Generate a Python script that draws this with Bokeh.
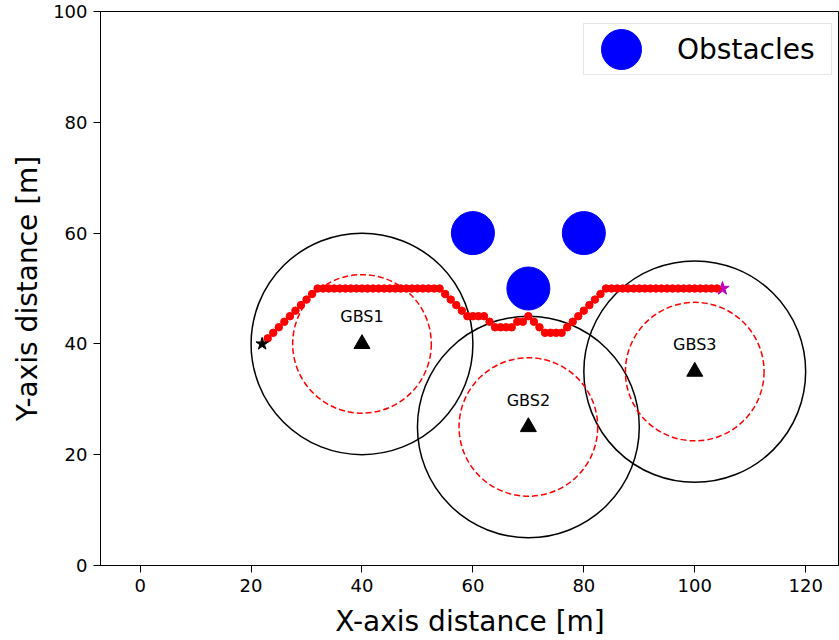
from bokeh.plotting import figure
from bokeh.models import Range1d, Legend, LegendItem, FixedTicker
from bokeh.core.properties import value
from bokeh.embed import file_html
from bokeh.resources import INLINE

# ---- data ----
path_x = [23, 24, 25, 26, 27, 28, 29, 30, 31, 32,
          33, 34, 35, 36, 37, 38, 39, 40, 41, 42, 43, 44, 45, 46, 47, 48, 49, 50, 51, 52, 53, 54,
          55, 56, 57, 58, 59, 60, 61, 62, 63, 64, 65, 66, 67, 68, 69, 70, 71, 72, 73, 74, 75, 76,
          77, 78, 79, 80, 81, 82, 83, 84,
          85, 86, 87, 88, 89, 90, 91, 92, 93, 94, 95, 96, 97, 98, 99, 100, 101, 102, 103, 104]
path_y = [41, 42, 43, 44, 45, 46, 47, 48, 49, 50,
          50, 50, 50, 50, 50, 50, 50, 50, 50, 50, 50, 50, 50, 50, 50, 50, 50, 50, 50, 50, 50, 50,
          49, 48, 47, 46, 45, 45, 45, 45, 44, 43, 43, 43, 43, 44, 44, 45, 44, 43, 42, 42, 42, 42,
          43, 44, 45, 46, 47, 48, 49, 50,
          50, 50, 50, 50, 50, 50, 50, 50, 50, 50, 50, 50, 50, 50, 50, 50, 50, 50, 50, 50]

start_x = [22]
start_y = [40]
goal_x = [105]
goal_y = [50]

gbs_x = [40, 70, 100]
gbs_y = [40, 25, 35]
gbs_names = ["GBS1", "GBS2", "GBS3"]
outer_radius = [20, 20, 20]
inner_radius = [12.5, 12.5, 12.5]

obs_x = [60, 80, 70]
obs_y = [60, 60, 50]

x_ticks = [0, 20, 40, 60, 80, 100, 120]
y_ticks = [0, 20, 40, 60, 80, 100]

FONT = "DejaVu Sans"

p = figure(width=839, height=640, x_range=Range1d(-7.15, 126.1), y_range=Range1d(0, 100),
           output_backend="svg", toolbar_location=None,
           min_border_left=100, min_border_right=0, min_border_top=11, min_border_bottom=75)

p.xgrid.visible = False
p.ygrid.visible = False
p.outline_line_color = "black"
p.outline_line_width = 1

for ax, ticks in ((p.xaxis[0], x_ticks), (p.yaxis[0], y_ticks)):
    ax.ticker = FixedTicker(ticks=ticks)
    ax.minor_tick_line_color = None
    ax.major_tick_in = 0
    ax.major_tick_out = 7
    ax.axis_line_color = "black"
    ax.major_tick_line_color = "black"
    ax.major_label_text_font = FONT
    ax.major_label_text_font_size = "18px"
    ax.major_label_text_color = "black"
    ax.axis_label_text_font = FONT
    ax.axis_label_text_font_size = "28px"
    ax.axis_label_text_font_style = "normal"
    ax.axis_label_text_color = "black"
    ax.major_label_standoff = 6

p.xaxis.axis_label_standoff = 10
p.yaxis.axis_label_standoff = 6

p.xaxis.axis_label = "X-axis distance [m]"
p.yaxis.axis_label = "Y-axis distance [m]"

# coverage circles
outer_d = [2 * r for r in outer_radius]
inner_d = [2 * r for r in inner_radius]
p.ellipse(gbs_x, gbs_y, width=outer_d, height=outer_d, fill_color=None,
          line_color="black", line_width=1.5)
p.ellipse(gbs_x, gbs_y, width=inner_d, height=inner_d, fill_color=None,
          line_color="red", line_width=1.5, line_dash="6 3")

# obstacles
obs_r = p.ellipse(obs_x, obs_y, width=43, height=43, width_units="screen", height_units="screen",
                  fill_color="blue", line_color="blue")

# goal star (under path)
p.scatter(goal_x, goal_y, marker="star", size=14, color="#bf00bf")
# path
p.scatter(path_x, path_y, marker="circle", size=7.5, color="red")
# start star
p.scatter(start_x, start_y, marker="star", size=13, color="black")

# stations
p.scatter(gbs_x, gbs_y, marker="triangle", size=16, color="black")
p.text(gbs_x, gbs_y, text=gbs_names, y_offset=-27, text_align="center",
       text_baseline="alphabetic", text_font=value(FONT), text_font_size="16px",
       text_color="black")

legend = Legend(items=[LegendItem(label="Obstacles", renderers=[obs_r])],
                location=(483, 490), glyph_width=74, glyph_height=50, padding=0,
                label_standoff=19, label_width=154, margin=0,
                label_text_font=FONT, label_text_font_size="28px", label_text_color="black",
                border_line_color="#cccccc", border_line_width=1.5,
                background_fill_color="white", background_fill_alpha=0.8)
p.add_layout(legend)

open("out.html", "w").write(file_html(p, INLINE))
